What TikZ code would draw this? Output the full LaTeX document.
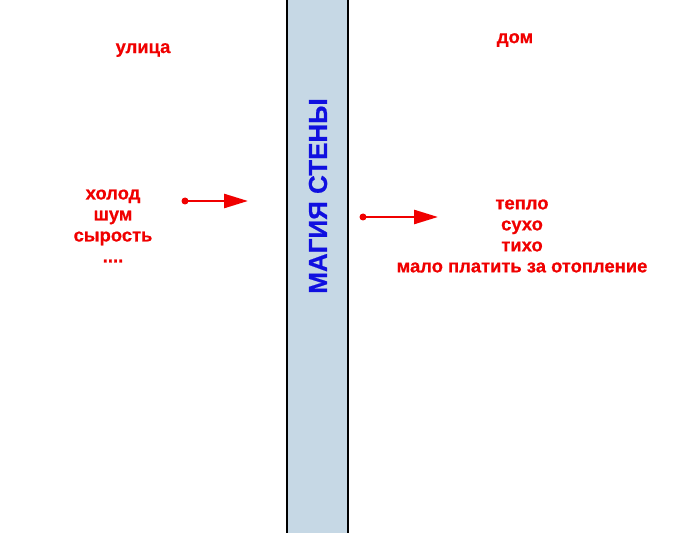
\documentclass[tikz,border=0pt]{standalone}
\usepackage{fontspec}
\setmainfont{Liberation Sans}
\newfontfamily\heavyfont[FakeBold=0.6]{Liberation Sans Bold}
\usetikzlibrary{arrows.meta}
\definecolor{wallblue}{HTML}{C6D8E5}
\definecolor{txtred}{HTML}{F00000}
\definecolor{wordblue}{HTML}{1010E0}
\tikzset{
  lbl/.style={text=txtred, font=\heavyfont\fontsize{18.4bp}{21bp}\selectfont, align=center, inner sep=0pt},
  dotnode/.style={circle, fill=txtred, inner sep=0pt, minimum size=7bp},
  redarrow/.style={draw=txtred, line width=2.6bp, -{Triangle[length=24bp,width=14bp]}, shorten <=-1bp}
}
\begin{document}
\begin{tikzpicture}[x=1bp,y=-1bp]
\useasboundingbox[fill=white] (0,0) rectangle (700,533);
% wall
\fill[wallblue] (287,-2) rectangle (348,535);
\draw[black, line width=1.6bp] (287,-2) -- (287,535);
\draw[black, line width=1.6bp] (348,-2) -- (348,535);
\node[rotate=90, text=wordblue, font=\heavyfont\fontsize{26bp}{30bp}\selectfont, inner sep=0pt] (wall) at (318,196) {МАГИЯ СТЕНЫ};
% labels
\node[lbl] (street) at (143,50) {улица};
\node[lbl] (home) at (515,40) {дом};
\node[lbl] (outside) at (113,226) {холод\\шум\\сырость\\....};
\node[lbl] (inside) at (522,236) {тепло\\сухо\\тихо\\мало платить за отопление};
% arrows
\node[dotnode] (d1) at (185,201) {};
\coordinate (e1) at (248,201);
\draw[redarrow] (d1.center) -- (e1);
\node[dotnode] (d2) at (363,217) {};
\coordinate (e2) at (438,217);
\draw[redarrow] (d2.center) -- (e2);
\end{tikzpicture}
\end{document}
